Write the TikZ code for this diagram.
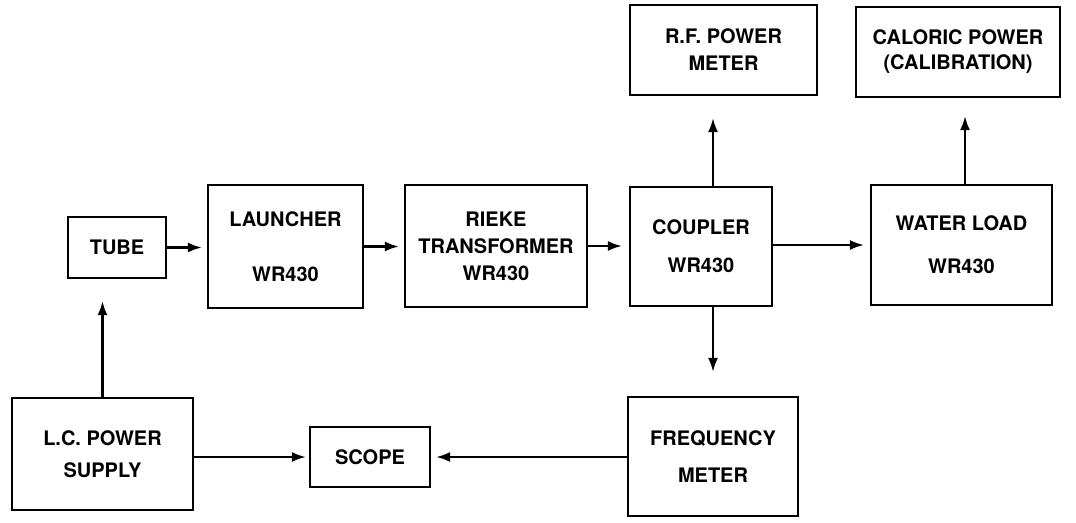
\documentclass[tikz,border=0pt]{standalone}
\usepackage{fontspec}
\setmainfont{TeX Gyre Heros}
\usetikzlibrary{arrows.meta}
\begin{document}
\begin{tikzpicture}[x=1pt,y=-1pt,
  blk/.style={draw, line width=2.2pt, inner sep=0pt, align=center,
    font=\fontsize{20}{27}\selectfont\bfseries},
  arr/.style={line width=2.2pt, -{Latex[length=14pt,width=10pt]}}]
\useasboundingbox (0,0) rectangle (1076,522);
\node[blk, minimum width=98pt, minimum height=61pt] (tube) at (117,247.5) {TUBE};
\node[blk, minimum width=155pt, minimum height=123pt] (launcher) at (285.5,246.5) {LAUNCHER\\[28pt]WR430};
\node[blk, minimum width=182pt, minimum height=122pt] (rieke) at (496,246) {RIEKE\\TRANSFORMER\\WR430};
\node[blk, minimum width=142pt, minimum height=119pt] (coupler) at (701,246.5) {COUPLER\\[11pt]WR430};
\node[blk, minimum width=187pt, minimum height=90pt] (rf) at (723.5,50) {R.F. POWER\\METER};
\node[blk, minimum width=204pt, minimum height=90pt] (cal) at (958,52) {CALORIC POWER\\[-2pt](CALIBRATION)};
\node[blk, minimum width=181pt, minimum height=120pt] (water) at (961.5,245) {WATER LOAD\\[16pt]WR430};
\node[blk, minimum width=181pt, minimum height=112pt] (lc) at (102.5,454) {L.C. POWER\\[5pt]SUPPLY};
\node[blk, minimum width=120pt, minimum height=60pt] (scope) at (370,457) {SCOPE};
\node[blk, minimum width=170pt, minimum height=119pt] (freq) at (713,456.5) {FREQUENCY\\[10pt]METER};
% horizontal connectors
\draw[arr, shorten >=5pt] (tube.east) -- (launcher.west |- tube.east);
\draw[arr, shorten >=5pt] (launcher.east) -- (rieke.west |- launcher.east);
\draw[arr, shorten >=7pt] (rieke.east) -- (coupler.west |- rieke.east);
\draw[arr, shorten >=6pt] (coupler.east |- water.west) -- (water.west);
\draw[arr, shorten >=3pt] (lc.east |- scope.west) -- (scope.west);
\draw[arr, shorten >=5pt] (freq.west |- scope.east) -- (scope.east);
% vertical connectors
\draw[arr, shorten >=22pt] (lc.north) -- (lc.north |- tube.south);
\draw[arr, shorten >=22pt] (coupler.north -| freq.north) -- (rf.south -| freq.north);
\draw[arr, shorten >=24pt] (coupler.south -| freq.north) -- (freq.north);
\draw[arr, shorten >=18pt] (water.north -| 965,0) -- (cal.south -| 965,0);
\end{tikzpicture}
\end{document}
